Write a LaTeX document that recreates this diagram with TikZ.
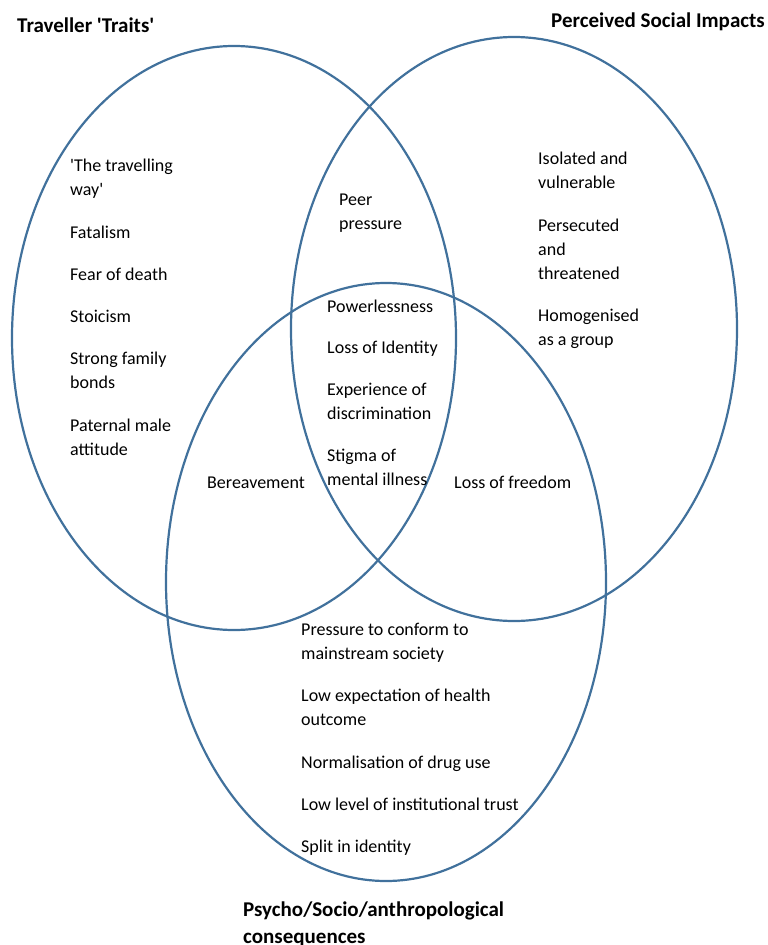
\documentclass[tikz,border=0pt]{standalone}
\usepackage{fontspec}
\setmainfont{Carlito}
\usepackage{tikz}
\definecolor{vennblue}{RGB}{65,113,156}
\newcommand{\sq}{\textquotesingle}

\begin{document}
\begin{tikzpicture}[x=1pt,y=-1pt,
  venn/.style={draw=vennblue, line width=2.2pt},
  item/.style={anchor=base west, align=left, inner sep=0pt, font=\fontsize{18}{24}\selectfont},
  heading/.style={anchor=base west, align=left, inner sep=0pt, font=\fontsize{21}{27}\selectfont\bfseries}]

\useasboundingbox (0,0) rectangle (768,945);

% The three sets
\draw[venn] (234,338) ellipse [x radius=222pt, y radius=292pt]; % Traveller traits
\draw[venn] (514,329) ellipse [x radius=223pt, y radius=292pt]; % Social impacts
\draw[venn] (386,582) ellipse [x radius=220pt, y radius=299pt]; % Consequences

% Set headings (base = last line)
\node[heading] (traits) at (17,32) {Traveller \sq Traits\sq};
\node[heading] (impacts) at (551,27) {Perceived Social Impacts};
\node[heading] (conseq) at (243,943) {Psycho/Socio/anthropological\\consequences};

% Traveller traits only
\node[item] (travway) at (70,195) {\sq The travelling\\way\sq};
\node[item] (fatalism) at (70,238) {Fatalism};
\node[item] (death) at (70,280) {Fear of death};
\node[item] (stoicism) at (70,322) {Stoicism};
\node[item] (family) at (70,388) {Strong family\\bonds};
\node[item] (paternal) at (70,455) {Paternal male\\attitude};

% Social impacts only
\node[item] (isolated) at (538,188) {Isolated and\\vulnerable};
\node[item] (persecuted) at (538,279) {Persecuted\\and\\threatened};
\node[item] (homog) at (538,345) {Homogenised\\as a group};

% Overlaps of two sets
\node[item] (peer) at (339,229) {Peer\\pressure}; % traits and impacts
\node[item] (bereave) at (207,488) {Bereavement}; % traits and consequences
\node[item] (freedom) at (454,488) {Loss of freedom}; % impacts and consequences

% Centre, all three sets
\node[item] (power) at (327,312) {Powerlessness};
\node[item] (identity) at (327,353) {Loss of Identity};
\node[item] (discrim) at (327,419) {Experience of\\discrimination};
\node[item] (stigma) at (327,485) {Stigma of\\mental illness};

% Consequences only
\node[item] (conform) at (301,659) {Pressure to conform to\\mainstream society};
\node[item] (expect) at (301,725) {Low expectation of health\\outcome};
\node[item] (drugs) at (301,768) {Normalisation of drug use};
\node[item] (trust) at (301,810) {Low level of institutional trust};
\node[item] (split) at (301,852) {Split in identity};

\end{tikzpicture}
\end{document}
